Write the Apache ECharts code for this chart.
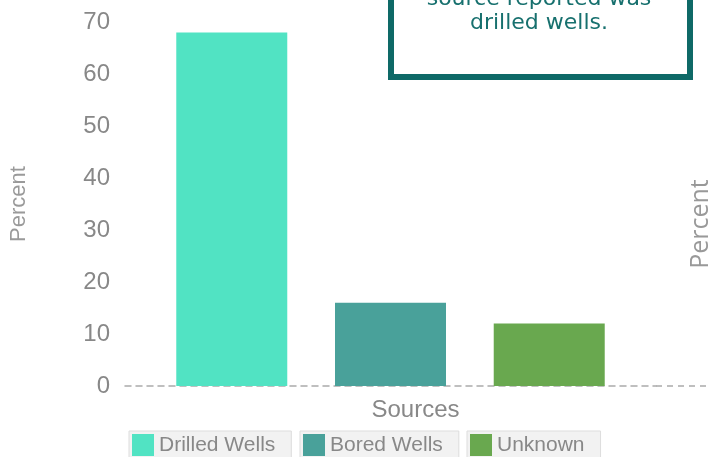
<!DOCTYPE html>
<html><head><meta charset="utf-8">
<script src="https://cdn.jsdelivr.net/npm/echarts@6/dist/echarts.min.js"></script>
<style>html,body{margin:0;padding:0;background:#fff}#c{width:708px;height:457px}</style>
</head><body><div id="c"></div>
<script>
const categories = ['Sources'];
const seriesNames = ['Drilled Wells', 'Bored Wells', 'Unknown'];
const seriesValues = [[68], [16], [12]];
const seriesColors = ['#51e3c3', '#49a19a', '#69a84f'];
const yTicks = [0, 10, 20, 30, 40, 50, 60, 70];
const noteLines = ['source reported was', 'drilled wells.'];

const chart = echarts.init(document.getElementById('c'));
const legendLefts = [129, 300, 467];
chart.setOption({
  animation: false,
  backgroundColor: '#fff',
  grid: { left: 122, right: 52, top: 22, bottom: 71 },
  xAxis: {
    type: 'category', data: categories,
    axisLine: { show: true, lineStyle: { color: '#aaa', type: [6, 5], width: 1.5 } },
    axisTick: { show: false }, axisLabel: { show: false },
    name: 'Sources', nameLocation: 'middle', nameGap: 12,
    nameTextStyle: { color: '#888', fontSize: 24, fontFamily: 'Liberation Sans', padding: [0, 0, 0, 50], verticalAlign: 'top' }
  },
  yAxis: {
    type: 'value', min: yTicks[0], max: yTicks[yTicks.length - 1], interval: 10,
    axisLine: { show: false }, axisTick: { show: false }, splitLine: { show: false },
    axisLabel: { color: '#888', fontSize: 24, fontFamily: 'Liberation Sans', margin: 15 },
    name: 'Percent', nameLocation: 'middle', nameGap: 95,
    nameTextStyle: { color: '#9a9a9a', fontSize: 22, fontFamily: 'Liberation Sans' }
  },
  legend: seriesNames.map((n, i) => ({
    data: [n], left: legendLefts[i], top: 431, orient: 'horizontal',
    itemWidth: 22, itemHeight: 22, icon: 'rect', selectedMode: false,
    backgroundColor: '#f2f2f2', borderColor: '#dddddd', borderWidth: 1,
    padding: [3, 16, 3, 3],
    textStyle: { color: '#888', fontSize: 21, fontFamily: 'Liberation Sans' }
  })),
  series: seriesNames.map((n, i) => ({
    name: n, type: 'bar', data: seriesValues[i], barWidth: 111, barGap: '43%',
    itemStyle: { color: seriesColors[i] }
  })),
  graphic: [
    { type: 'line', shape: { x1: 656, y1: 386, x2: 708, y2: 386 },
      style: { stroke: '#aaa', lineWidth: 1.5, lineDash: [6, 5] } },
    { type: 'text', x: 701, y: 224, rotation: Math.PI / 2,
      style: { text: 'Percent', fill: '#999', fontSize: 25, fontFamily: 'Open Sans', align: 'center', verticalAlign: 'middle' } },
    { type: 'rect', shape: { x: 391, y: -60, width: 299, height: 137 },
      style: { fill: '#fff', stroke: '#0e6967', lineWidth: 6 } },
    { type: 'text', x: 539, y: 34,
      style: { text: noteLines[1], fill: '#17706e', fontSize: 22, fontFamily: 'DejaVu Sans', align: 'center', verticalAlign: 'bottom' } },
    { type: 'text', x: 539, y: 10,
      style: { text: noteLines[0], fill: '#17706e', fontSize: 22, fontFamily: 'DejaVu Sans', align: 'center', verticalAlign: 'bottom' } }
  ]
});
</script></body></html>
